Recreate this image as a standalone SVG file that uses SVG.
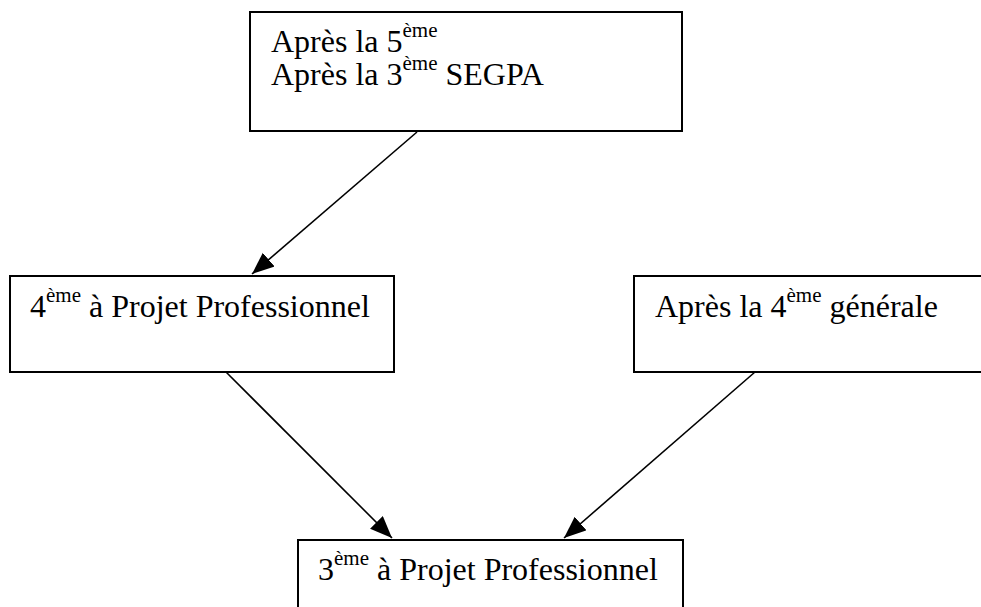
<svg xmlns="http://www.w3.org/2000/svg" width="981" height="607" viewBox="0 0 981 607">
<style>
.box{fill:#fff;stroke:#000;stroke-width:2}
.t{font-family:"Liberation Serif","Times New Roman",serif;font-size:32px;fill:#000}
.sup{font-size:21px}
.conn{stroke:#000;stroke-width:1.6;fill:none;marker-end:url(#ah)}
</style>
<defs>
<marker id="ah" markerUnits="userSpaceOnUse" markerWidth="24" markerHeight="20" refX="22" refY="9" orient="auto">
<path d="M0,0 L22,9 L0,18 z" fill="#000"/>
</marker>
</defs>
<rect width="981" height="607" fill="#fff"/>
<g id="connectors">
<line class="conn" x1="417" y1="132" x2="252" y2="274"/>
<line class="conn" x1="226" y1="372" x2="392" y2="538"/>
<line class="conn" x1="755" y1="372" x2="564" y2="538"/>
</g>
<g id="node-top">
<rect class="box" x="250" y="12" width="432" height="119"/>
<text class="t" x="271" y="52">Après la 5<tspan class="sup" dy="-15">ème</tspan></text>
<text class="t" x="271" y="85">Après la 3<tspan class="sup" dy="-15">ème</tspan><tspan dy="15"> SEGPA</tspan></text>
</g>
<g id="node-left">
<rect class="box" x="10" y="276" width="384" height="96"/>
<text class="t" x="30" y="317">4<tspan class="sup" dy="-15">ème</tspan><tspan dy="15"> à Projet Professionnel</tspan></text>
</g>
<g id="node-right">
<rect class="box" x="634" y="276" width="360" height="96"/>
<text class="t" x="655" y="317">Après la 4<tspan class="sup" dy="-15">ème</tspan><tspan dy="15"> générale</tspan></text>
</g>
<g id="node-bottom">
<rect class="box" x="298" y="540" width="385" height="80"/>
<text class="t" x="318" y="580">3<tspan class="sup" dy="-15">ème</tspan><tspan dy="15"> à Projet Professionnel</tspan></text>
</g>
</svg>
